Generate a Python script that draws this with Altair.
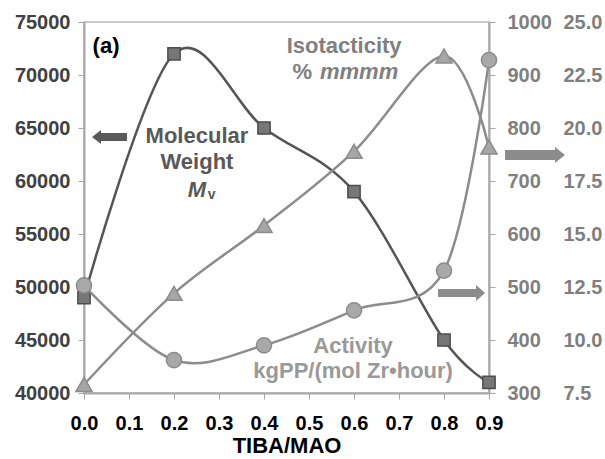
import altair as alt
import pandas as pd

# TIBA/MAO ratio and the three measured properties
tiba = [0.0, 0.2, 0.4, 0.6, 0.8, 0.9]
mol_weight = [49000, 72000, 65000, 59000, 45000, 41000]
isotacticity = [7.9, 12.2, 15.4, 18.9, 23.4, 19.1]
activity = [503, 362, 390, 456, 531, 928]

x_ticks = [0.0, 0.1, 0.2, 0.3, 0.4, 0.5, 0.6, 0.7, 0.8, 0.9]
mw_ticks = [40000, 45000, 50000, 55000, 60000, 65000, 70000, 75000]
act_ticks = [300, 400, 500, 600, 700, 800, 900, 1000]
iso_ticks = [7.5, 10.0, 12.5, 15.0, 17.5, 20.0, 22.5, 25.0]

# Annotation labels, placed in (TIBA/MAO, molecular weight) units
label_text = ["(a)", "Molecular", "Weight", "Isotacticity", "Activity", "kgPP/(mol Zr\u2022hour)"]
label_x = [0.049, 0.251, 0.251, 0.578, 0.598, 0.598]
label_y = [72740, 64250, 61790, 72740, 44430, 42080]
label_color = ["#000000", "#595959", "#595959", "#808080", "#999999", "#999999"]

FONT = "Liberation Sans"

df = pd.DataFrame({"tiba": tiba, "mw": mol_weight, "iso": isotacticity, "act": activity})
labels = pd.DataFrame({"tiba": label_x, "y": label_y, "text": label_text, "color": label_color})

x_enc = alt.X(
    "tiba:Q",
    scale=alt.Scale(domain=[0, 0.9], nice=False, zero=False),
    axis=alt.Axis(
        values=x_ticks, format=".1f", title="TIBA/MAO", labelFontSize=20,
        labelFont=FONT, labelFontWeight="bold", labelColor="#000000",
        labelFlush=False, labelOverlap=False, labelBound=False,
        titleFont=FONT, titleFontSize=22, titleFontWeight="bold", titleColor="#000000",
        titlePadding=2, labelPadding=14, tickSize=6, tickColor="#a6a6a6",
        domainColor="#a6a6a6", domainWidth=2, grid=False,
    ),
)

mw_axis = alt.Axis(
    values=mw_ticks, format="d", title=None, orient="left", labelFontSize=20,
    labelFont=FONT, labelFontWeight="bold", labelColor="#404040",
    labelFlush=False, labelOverlap=False, labelBound=False,
    tickSize=6, tickColor="#a6a6a6", labelPadding=8,
    domainColor="#a6a6a6", domainWidth=2, grid=False)
iso_axis = alt.Axis(
    values=iso_ticks, format=".1f", title=None, orient="right", labelFontSize=20,
    labelFont=FONT, labelFontWeight="bold", labelColor="#7f7f7f",
    labelFlush=False, labelOverlap=False, labelBound=False,
    ticks=False, tickSize=0, domain=False, labelPadding=74, grid=False)
act_axis = alt.Axis(
    values=act_ticks, format="d", title=None, orient="right", labelFontSize=20,
    labelFont=FONT, labelFontWeight="bold", labelColor="#7f7f7f",
    labelFlush=False, labelOverlap=False, labelBound=False,
    tickSize=6, tickColor="#a6a6a6", labelPadding=12,
    domainColor="#a6a6a6", domainWidth=2, grid=False)

mw_y = alt.Y("mw:Q", scale=alt.Scale(domain=[40000, 75000], nice=False, zero=False), axis=mw_axis)
iso_y = alt.Y("iso:Q", scale=alt.Scale(domain=[7.5, 25], nice=False, zero=False), axis=iso_axis)
act_y = alt.Y("act:Q", scale=alt.Scale(domain=[300, 1000], nice=False, zero=False), axis=act_axis)
ann_y = alt.Y("y:Q", scale=alt.Scale(domain=[40000, 75000], nice=False, zero=False), axis=None)

base = alt.Chart(df)

# Molecular weight on the left axis
mw_group = alt.layer(
    base.mark_line(interpolate="cardinal", color="#555555", strokeWidth=2.5).encode(x=x_enc, y=mw_y),
    base.mark_point(shape="square", filled=True, size=150, fill="#777777",
                    stroke="#4d4d4d", strokeWidth=1.5, opacity=1).encode(x=x_enc, y=mw_y),
)

# Isotacticity on the outer right axis
iso_group = alt.layer(
    base.mark_line(interpolate="cardinal", color="#8c8c8c", strokeWidth=2.5).encode(x=x_enc, y=iso_y),
    base.mark_point(shape="triangle-up", filled=True, size=260, fill="#a6a6a6",
                    stroke="#8c8c8c", strokeWidth=1.5, opacity=1).encode(x=x_enc, y=iso_y),
)

# Activity on the inner right axis
act_group = alt.layer(
    base.mark_line(interpolate="cardinal", color="#8c8c8c", strokeWidth=2.5).encode(x=x_enc, y=act_y),
    base.mark_point(shape="circle", filled=True, size=230, fill="#a8a8a8",
                    stroke="#8c8c8c", strokeWidth=1.5, opacity=1).encode(x=x_enc, y=act_y),
)

# Text and arrow annotations
ann = alt.Chart(labels)
texts = ann.mark_text(font=FONT, fontSize=22, fontWeight="bold", align="center",
                      baseline="middle").encode(
    x=x_enc, y=ann_y, text="text:N", color=alt.Color("color:N", scale=None))

extra = pd.DataFrame({"tiba": [0.5067, 0.5244, 0.2511, 0.275], "y": [70280, 70280, 59150, 58700]})
pct = alt.Chart(extra.iloc[[0]]).mark_text(
    text="%", font=FONT, fontSize=22, fontWeight="bold", align="right",
    baseline="middle", color="#808080").encode(x=x_enc, y=ann_y)
mmmm = alt.Chart(extra.iloc[[1]]).mark_text(
    text="mmmm", font=FONT, fontSize=22, fontWeight="bold", fontStyle="italic",
    align="left", baseline="middle", color="#808080").encode(x=x_enc, y=ann_y)
m_sym = alt.Chart(extra.iloc[[2]]).mark_text(
    text="M", font=FONT, fontSize=22, fontWeight="bold", fontStyle="italic",
    align="center", baseline="middle", color="#595959").encode(x=x_enc, y=ann_y)
v_sub = alt.Chart(extra.iloc[[3]]).mark_text(
    text="v", font=FONT, fontSize=14, fontWeight="bold",
    align="left", baseline="middle", color="#595959").encode(x=x_enc, y=ann_y)

ARROW_LEFT = "M 1 -0.229 L -0.486 -0.229 L -0.486 -0.4 L -1 0 L -0.486 0.4 L -0.486 0.229 L 1 0.229 Z"
ARROW_UP_RIGHT = "M -1 -0.167 L 0.667 -0.167 L 0.667 -0.267 L 1 0 L 0.667 0.267 L 0.667 0.167 L -1 0.167 Z"
ARROW_LOW_RIGHT = "M -1 -0.17 L 0.617 -0.17 L 0.617 -0.34 L 1 0 L 0.617 0.34 L 0.617 0.17 L -1 0.17 Z"

arrow_pos = pd.DataFrame({"tiba": [0.0567, 1.0022, 0.8389], "y": [64150, 62450, 49430]})
arrow_left = alt.Chart(arrow_pos.iloc[[0]]).mark_point(
    shape=ARROW_LEFT, size=1225, filled=True, fill="#595959", strokeWidth=0, opacity=1
).encode(x=x_enc, y=ann_y)
arrow_iso = alt.Chart(arrow_pos.iloc[[1]]).mark_point(
    shape=ARROW_UP_RIGHT, size=3600, filled=True, fill="#8c8c8c", strokeWidth=0, opacity=1
).encode(x=x_enc, y=ann_y)
arrow_act = alt.Chart(arrow_pos.iloc[[2]]).mark_point(
    shape=ARROW_LOW_RIGHT, size=2209, filled=True, fill="#8c8c8c", strokeWidth=0, opacity=1
).encode(x=x_enc, y=ann_y)

ann_group = alt.layer(texts, pct, mmmm, m_sym, v_sub, arrow_left, arrow_iso, arrow_act)

chart = alt.layer(mw_group, iso_group, act_group, ann_group).resolve_scale(
    y="independent"
).properties(
    width=405, height=371, autosize="none",
    padding={"left": 84, "top": 22, "right": 116, "bottom": 66},
    background="#ffffff",
).configure_view(stroke="#c8c8c8", strokeWidth=2)

chart.save("out.html", embed_options={"renderer": "svg", "actions": False})
